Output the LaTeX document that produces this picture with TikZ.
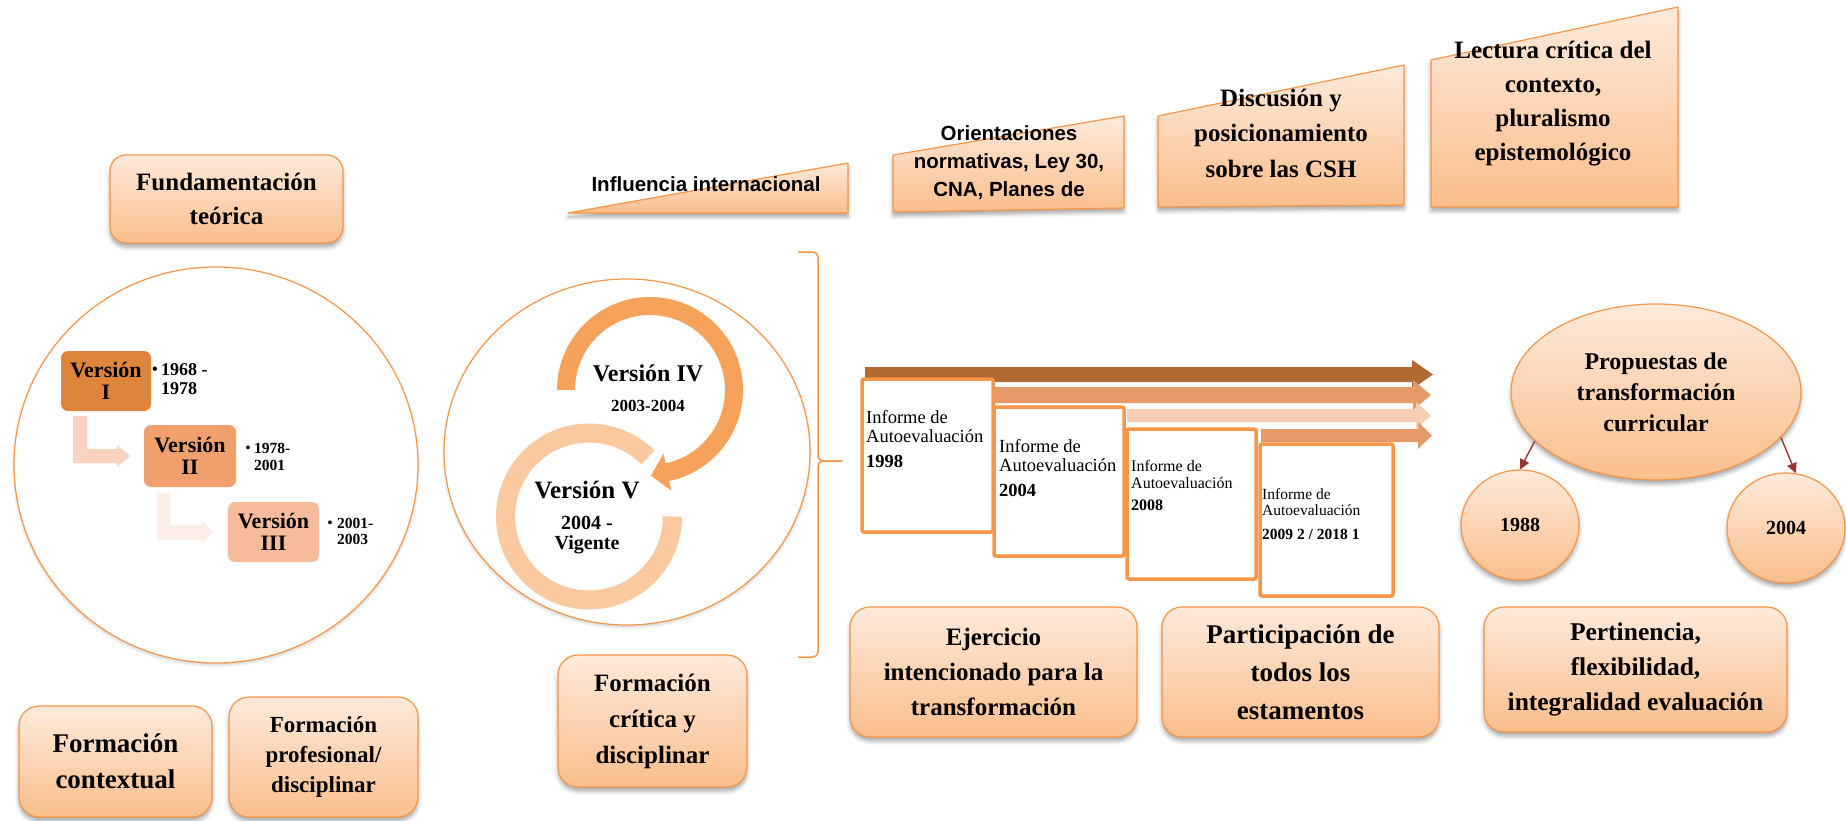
\documentclass[tikz,border=0pt]{standalone}
\usepackage{fontspec}
\setmainfont{Liberation Serif}
\newfontfamily\arialf{Liberation Sans}
\usetikzlibrary{shapes.geometric,shadows.blur,arrows.meta}
\definecolor{orb}{HTML}{F79646}
\definecolor{ortop}{HTML}{FEEADB}
\definecolor{orbot}{HTML}{FABE8C}
\definecolor{vone}{HTML}{DE853B}
\definecolor{vtwo}{HTML}{EFA06D}
\definecolor{vthree}{HTML}{F5BB9B}
\definecolor{benda}{HTML}{FAD3C0}
\definecolor{bendb}{HTML}{FCEDE6}
\definecolor{arcfour}{HTML}{F7A25A}
\definecolor{arcfive}{HTML}{FAC9A0}
\definecolor{ribA}{HTML}{B36A30}
\definecolor{ribB}{HTML}{E69A6A}
\definecolor{ribC}{HTML}{F9CCB4}
\definecolor{darkred}{HTML}{953735}
\newcommand{\fsz}[2]{\fontsize{#1}{#2}\selectfont}
\newcommand{\mkribbon}[6]{\fill[#1] (#2,#4) -- (#3,#4) -- (#3,{#4-7}) -- (#6,{(#4+#5)/2}) -- (#3,{#5+7}) -- (#3,#5) -- (#2,#5) -- cycle;}
\tikzset{
 shadowed/.style={blur shadow={shadow xshift=0pt,shadow yshift=-4pt,shadow blur radius=4pt,shadow opacity=35}},
 lightshadow/.style={blur shadow={shadow xshift=0pt,shadow yshift=-2pt,shadow blur radius=3pt,shadow opacity=20}},
 softbox/.style={draw=orb, line width=1.2pt, top color=ortop, bottom color=orbot, shadowed, align=center, inner sep=0pt, rounded corners=16pt},
 softshape/.style={draw=orb, line width=1.2pt, top color=ortop, bottom color=orbot, shadowed},
 vbox/.style={rounded corners=7pt, align=center, inner sep=0pt, font={\fsz{22}{22}\bfseries}},
 infbox/.style={draw=orb, line width=3.5pt, fill=white, rounded corners=2pt, inner sep=0pt},
 inftxt/.style={anchor=north west, align=left, inner sep=0pt},
 lbl/.style={inner sep=0pt, align=center},
 bigcirc/.style={ellipse, draw=orb, line width=1.2pt, fill=white, inner sep=0pt, lightshadow},
 oval/.style={ellipse, draw=orb, line width=1.2pt, top color=ortop, bottom color=orbot, shadowed, inner sep=0pt, align=center},
 redarrow/.style={draw=darkred, line width=1.4pt, -{Triangle[length=10pt,width=10pt]}},
}
\begin{document}
\begin{tikzpicture}[x=1pt,y=-1pt]
\useasboundingbox (0,0) rectangle (1846,821);

% ---------- left column ----------
\node[softbox, minimum width=233pt, minimum height=88pt, font={\fsz{25}{34}\bfseries}] (fund) at (226.5,199) {Fundamentación\\teórica};
\node[bigcirc, minimum width=404pt, minimum height=396pt] (circA) at (216,465) {};

\fill[benda] (73,416) -- (87,416) -- (87,449) -- (117,449) -- (117,445) -- (130,456) -- (117,467) -- (117,463) -- (73,463) -- cycle;
\fill[bendb] (157,493) -- (170,493) -- (170,525) -- (202,525) -- (202,521) -- (213,532.5) -- (202,544) -- (202,540) -- (157,540) -- cycle;

\node[vbox, fill=vone, minimum width=90pt, minimum height=60pt] (v1) at (106,381) {Versión\\I};
\node[vbox, fill=vtwo, minimum width=92pt, minimum height=62pt] (v2) at (190,456) {Versión\\II};
\node[vbox, fill=vthree, minimum width=91pt, minimum height=60pt] (v3) at (273.5,532) {Versión\\III};

\node[lbl, font={\fsz{16}{16}\bfseries}] (b1) at (155,371) {•};
\node[lbl, anchor=west, align=left, font={\fsz{18}{19}\bfseries}] (d1) at (161,379.5) {1968 -\\1978};
\node[lbl, font={\fsz{14}{14}\bfseries}] (b2) at (248,449) {•};
\node[lbl, anchor=west, align=left, font={\fsz{15.5}{17}\bfseries}] (d2) at (254,456.5) {1978-\\2001};
\node[lbl, font={\fsz{14}{14}\bfseries}] (b3) at (330,524) {•};
\node[lbl, anchor=west, align=left, font={\fsz{15.5}{16}\bfseries}] (d3) at (337,531) {2001-\\2003};

\node[softbox, rounded corners=20pt, minimum width=193pt, minimum height=111pt, font={\fsz{27}{36}\bfseries}] (fcont) at (115.5,761.5) {Formación\\contextual};
\node[softbox, rounded corners=20pt, minimum width=189pt, minimum height=120pt, font={\fsz{23}{30}\bfseries}] (fprof) at (323.5,757) {Formación\\profesional/\\disciplinar};

% ---------- middle circle ----------
\node[bigcirc, minimum width=366pt, minimum height=346pt] (circB) at (627,452) {};
\draw[arcfive, line width=19pt] plot[domain=0:315, samples=90] ({589+83.5*cos(\x)},{516.5+83.5*sin(\x)});
\draw[arcfour, line width=18pt] plot[domain=180:438.5, samples=100] ({650+84*cos(\x)},{390+84*sin(\x)});
\fill[arcfour] (671.4,490.7) -- (650.9,475.7) -- (663.5,453.6) -- cycle;
\node[lbl, font={\fsz{24}{24}\bfseries}] (v4) at (648,373) {Versión IV};
\node[lbl, font={\fsz{17}{17}\bfseries}] (v4d) at (648,406) {2003-2004};
\node[lbl, font={\fsz{25}{25}\bfseries}] (v5) at (587,490) {Versión V};
\node[lbl, font={\fsz{20}{20}\bfseries}] (v5d) at (587,535) {2004 -\\Vigente};

\draw[orb, line width=1.5pt, rounded corners=5pt] (798,252) -- (818,252) -- (818,461) -- (842,461);
\draw[orb, line width=1.5pt, rounded corners=5pt] (842,461) -- (818,461) -- (818,657) -- (798,657);

\node[softbox, rounded corners=20pt, minimum width=189pt, minimum height=132pt, font={\fsz{25}{36}\bfseries}] (fcrit) at (652.5,721) {Formación\\crítica y\\disciplinar};

% ---------- top sloped shapes ----------
\path[softshape] (568,213) -- (848,163) -- (848,213) -- cycle;
\node[lbl, font={\arialf\fsz{20.5}{28}\bfseries}] (infl) at (706,184) {Influencia internacional};
\path[softshape] (893,155) -- (1124,116) -- (1124,208) -- (893,212) -- cycle;
\node[lbl, font={\arialf\fsz{20.5}{28}\bfseries}] (orien) at (1009,163) {Orientaciones\\normativas, Ley 30,\\CNA, Planes de};
\path[softshape] (1158,116) -- (1404,65) -- (1404,205) -- (1158,207) -- cycle;
\node[lbl, font={\fsz{25}{35.5}\bfseries}] (disc) at (1281,133) {Discusión y\\posicionamiento\\sobre las CSH};
\path[softshape] (1431,60) -- (1678,7) -- (1678,207) -- (1431,207) -- cycle;
\node[lbl, font={\fsz{25}{34}\bfseries}] (lect) at (1553,104) {Lectura crítica del\\contexto,\\pluralismo\\epistemológico};

% ---------- informes ----------
\mkribbon{ribA}{865}{1412}{367}{382}{1433}
\node[infbox, minimum width=131pt, minimum height=153pt] (i1) at (927.5,455.5) {};
\node[inftxt, font={\fsz{18.5}{19}}] (t1) at (866,410) {Informe de\\Autoevaluación\\[6pt]\textbf{1998}};
\mkribbon{ribB}{995}{1413}{387}{403}{1431}
\node[infbox, minimum width=130pt, minimum height=149pt] (i2) at (1059,481.5) {};
\node[inftxt, font={\fsz{18.5}{19}}] (t2) at (999,439) {Informe de\\Autoevaluación\\[6pt]\textbf{2004}};
\mkribbon{ribC}{1127}{1416}{409}{422}{1431}
\node[infbox, minimum width=129pt, minimum height=150pt] (i3) at (1191.5,504) {};
\node[inftxt, font={\fsz{16}{17.5}}] (t3) at (1131,460) {Informe de\\Autoevaluación\\[4pt]\textbf{2008}};
\mkribbon{ribB}{1261}{1418}{429}{442}{1432}
\node[infbox, minimum width=133pt, minimum height=152pt] (i4) at (1326.5,520) {};
\node[inftxt, font={\fsz{15.5}{16.5}}] (t4) at (1262,488) {Informe de\\Autoevaluación\\[7pt]\textbf{2009 2 / 2018 1}};

% ---------- bottom boxes ----------
\node[softbox, rounded corners=20pt, minimum width=287pt, minimum height=130pt, font={\fsz{25}{35}\bfseries}] (ejer) at (993.5,672) {Ejercicio\\intencionado para la\\transformación};
\node[softbox, rounded corners=20pt, minimum width=277pt, minimum height=130pt, font={\fsz{27}{38}\bfseries}] (part) at (1300.5,672) {Participación de\\todos los\\estamentos};
\node[softbox, rounded corners=20pt, minimum width=303pt, minimum height=125pt, font={\fsz{25.5}{35}\bfseries}] (pert) at (1635.5,669.5) {Pertinencia,\\flexibilidad,\\integralidad evaluación};

% ---------- propuestas ----------
\node[oval, minimum width=290pt, minimum height=176pt, font={\fsz{24}{31}\bfseries}] (prop) at (1656,392) {Propuestas de\\transformación\\curricular};
\node[oval, minimum width=118pt, minimum height=110pt, font={\fsz{20}{20}\bfseries}] (c88) at (1520,525) {1988};
\node[oval, minimum width=118pt, minimum height=110pt, font={\fsz{20}{20}\bfseries}] (c04) at (1786,528) {2004};
\draw[redarrow] (prop.-158) -- (c88.north);
\draw[redarrow] (prop.-20) -- (c04.80);
\end{tikzpicture}
\end{document}
